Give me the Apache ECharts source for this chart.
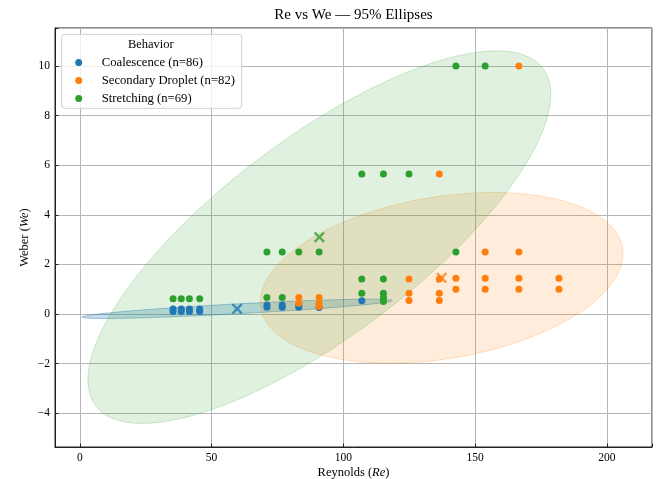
<!DOCTYPE html>
<html><head><meta charset="utf-8">
<script src="https://cdn.jsdelivr.net/npm/echarts@6/dist/echarts.min.js"></script>
<style>html,body{margin:0;padding:0;background:#fff}#c{width:656px;height:479px}</style>
</head><body><div id="c"></div>
<script>
// ---- data ----
const categories = ['Coalescence (n=86)', 'Secondary Droplet (n=82)', 'Stretching (n=69)'];
const colors = ['#1f77b4', '#ff7f0e', '#2ca02c'];
const coalescencePoints = [[35.4,0.1],[35.4,0.2],[38.5,0.1],[38.5,0.2],[41.6,0.1],[41.6,0.2],[45.5,0.1],[45.5,0.2],
  [71.0,0.27],[71.0,0.36],[76.8,0.27],[76.8,0.36],[83.1,0.27],[83.1,0.36],[90.8,0.26],[107.0,0.54]];
const secondaryPoints = [[83.1,0.43],[83.1,0.67],[90.8,0.3],[90.8,0.43],[90.8,0.67],
  [124.9,0.55],[124.9,0.84],[124.9,1.41],[136.4,0.55],[136.4,0.84],[136.4,1.41],[136.4,5.64],
  [142.7,1.0],[142.7,1.44],[153.8,1.0],[153.8,1.44],[153.8,2.5],
  [166.6,1.0],[166.6,1.44],[166.6,2.5],[166.6,10],[181.8,1.0],[181.8,1.44]];
const stretchingPoints = [[35.4,0.62],[38.5,0.62],[41.6,0.62],[45.5,0.62],
  [71.0,0.67],[71.0,2.5],[76.8,0.67],[76.8,2.5],[83.1,2.5],[90.8,2.5],
  [107.0,0.84],[107.0,1.41],[107.0,5.64],[115.2,0.51],[115.2,0.67],[115.2,0.84],[115.2,1.41],[115.2,5.64],
  [124.9,5.64],[142.7,2.5],[142.7,10],[153.8,10]];
const meanRe = [59.7, 137.3, 90.9];
const meanWe = [0.21, 1.46, 3.10];
const ellipseHalfRe = [58.9, 68.8, 87.8];
const ellipseHalfWe = [0.39, 3.44, 7.51];
const ellipseCorr = [0.86, 0.283, 0.766];
const xTickLabels = [0, 50, 100, 150, 200];
const yTickLabels = [-4, -2, 0, 2, 4, 6, 8, 10];

// ---- chart ----
const FONT = 'Liberation Serif';
const fillAlpha = [0.25, 0.15, 0.15];
const edgeAlpha = [0.4, 0.22, 0.22];
function rgba(hex, a) {
  const n = parseInt(hex.slice(1), 16);
  return 'rgba(' + (n >> 16 & 255) + ',' + (n >> 8 & 255) + ',' + (n & 255) + ',' + a + ')';
}
function ellipseRender(params, api) {
  const i = params.dataIndex;
  const r = ellipseCorr[i], s = Math.sqrt(1 - r * r);
  const pts = [];
  for (let k = 0; k <= 180; k++) {
    const t = k / 180 * 2 * Math.PI;
    const x = meanRe[i] + ellipseHalfRe[i] * Math.cos(t);
    const y = meanWe[i] + ellipseHalfWe[i] * (r * Math.cos(t) + s * Math.sin(t));
    pts.push(api.coord([x, y]));
  }
  return { type: 'polygon', shape: { points: pts },
    style: { fill: rgba(colors[i], fillAlpha[i]), stroke: rgba(colors[i], edgeAlpha[i]), lineWidth: 1 } };
}
const fmtNum = v => (v < 0 ? '\u2212' + Math.abs(v) : String(v));
const XMARK = 'path://M0,1.5L1.5,0L5,3.5L8.5,0L10,1.5L6.5,5L10,8.5L8.5,10L5,6.5L1.5,10L0,8.5L3.5,5Z';
const pointSets = [coalescencePoints, secondaryPoints, stretchingPoints];
const nameStyle = { color: '#000', fontFamily: FONT, fontSize: 12.5,
  rich: { i: { fontStyle: 'italic', fontFamily: FONT, fontSize: 12.5, color: '#000' } } };

const chart = echarts.init(document.getElementById('c'));
chart.setOption({
  animation: false,
  backgroundColor: '#fff',
  textStyle: { fontFamily: FONT },
  grid: { left: 55, right: 4, top: 28, bottom: 32, containLabel: false, outerBoundsMode: 'none',
    show: true, borderColor: '#222', borderWidth: 1, backgroundColor: 'transparent' },
  xAxis: {
    type: 'value', min: -9.4, max: 217.1, splitNumber: 5, minInterval: 50, maxInterval: 50,
    axisLine: { show: true, onZero: false, lineStyle: { color: '#222', width: 1 } },
    axisTick: { show: true, inside: true, length: 3.5, lineStyle: { color: '#222' } },
    axisLabel: { color: '#000', fontFamily: FONT, fontSize: 11.5, margin: 5,
      formatter: v => (xTickLabels.indexOf(v) >= 0 ? fmtNum(v) : '') },
    splitLine: { show: true, lineStyle: { color: '#b5b5b5', width: 1 } },
    name: 'Reynolds ({i|Re})', nameLocation: 'middle', nameGap: 19, nameMoveOverlap: false, nameTextStyle: nameStyle
  },
  yAxis: {
    type: 'value', min: -5.36, max: 11.53, splitNumber: 8, minInterval: 2, maxInterval: 2,
    axisLine: { show: true, onZero: false, lineStyle: { color: '#222', width: 1 } },
    axisTick: { show: true, inside: true, length: 3.5, lineStyle: { color: '#222' } },
    axisLabel: { color: '#000', fontFamily: FONT, fontSize: 11.5, margin: 5,
      formatter: v => (yTickLabels.indexOf(v) >= 0 ? fmtNum(v) : '') },
    splitLine: { show: true, lineStyle: { color: '#b5b5b5', width: 1 } },
    name: 'Weber ({i|We})', nameLocation: 'middle', nameGap: 24, nameMoveOverlap: false, nameRotate: 90, nameTextStyle: nameStyle
  },
  legend: {
    data: categories, orient: 'vertical', left: 75.2, top: 56, padding: 0, itemGap: 5,
    icon: 'circle', itemWidth: 36, itemHeight: 7, z: 20,
    textStyle: { color: '#000', fontFamily: FONT, fontSize: 12.7 }
  },
  graphic: [
    { type: 'text', x: 353.5, y: 15, z: 20,
      style: { text: 'Re vs We \u2014 95% Ellipses', font: '15px "Liberation Serif"', fill: '#000', align: 'center', verticalAlign: 'middle' } },
    { type: 'rect', x: 61.7, y: 34.3, z: 10,
      shape: { width: 180, height: 74, r: 3 },
      style: { fill: 'rgba(255,255,255,0.8)', stroke: '#d0d0d0', lineWidth: 1 } },
    { type: 'text', x: 150.8, y: 44.5, z: 20,
      style: { text: 'Behavior', font: '12.5px "Liberation Serif"', fill: '#000', align: 'center', verticalAlign: 'middle' } }
  ],
  series: [
    { type: 'custom', name: 'ellipses', renderItem: ellipseRender, z: 1, silent: true,
      data: meanRe.map((x, i) => [x, meanWe[i]]), encode: { x: 0, y: 1 } },
    ...pointSets.map((pts, i) => ({
      type: 'scatter', name: categories[i], data: pts, symbol: 'circle', symbolSize: 7, z: 3,
      itemStyle: { color: colors[i], opacity: 1 }
    })),
    { type: 'scatter', name: 'means', symbol: XMARK, symbolSize: 11, z: 4,
      data: meanRe.map((x, i) => ({ value: [x, meanWe[i]], itemStyle: { color: colors[i] } })) }
  ]
});
</script>
</body></html>
